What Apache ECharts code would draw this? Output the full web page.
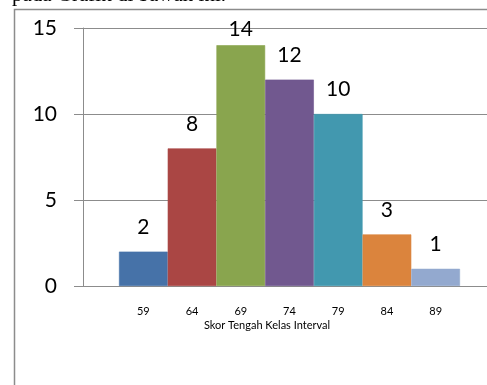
<!DOCTYPE html>
<html>
	<head>
		<meta charset="utf-8" />
		<title>Skor Tengah Kelas Interval</title>
		<style>
			html, body { margin: 0; padding: 0; background: #fff; }
			#chartmain { width: 487px; height: 385px; }
		</style>
	</head>
	<body>
		<div id="chartmain"></div>
		<script type="text/javascript" src="https://cdn.jsdelivr.net/npm/echarts@6/dist/echarts.min.js"></script>
		<script type="text/javascript">
			// data
			var skorTengah = ['59', '64', '69', '74', '79', '84', '89'];
			var frekuensi = [2, 8, 14, 12, 10, 3, 1];
			var warnaBatang = ['#4672A8', '#AA4644', '#89A54E', '#71588F', '#4298AF', '#DB843D', '#93A9CF'];
			var yTicks = [0, 5, 10, 15];

			var garis = '#8c8c8c';
			var hurufAngka = 'Lato, "Open Sans", sans-serif';

			var dataBatang = [];
			for (var i = 0; i < frekuensi.length; i++) {
				var item = {
					value: frekuensi[i],
					itemStyle: { color: warnaBatang[i], borderColor: warnaBatang[i], borderWidth: 0.6 }
				};
				// label yang mentok di atas area plot digeser turun
				if (frekuensi[i] >= 14) {
					item.label = { distance: 5 };
				}
				dataBatang.push(item);
			}

			var option = {
				animation: false,
				backgroundColor: '#fff',
				grid: [
					{ left: 83, right: 0, top: 28, bottom: 99 },
					{ left: 119, right: 27, top: 28, bottom: 99 }
				],
				xAxis: [
					{
						gridIndex: 0, type: 'value', min: 0, max: 1,
						axisLine: { show: true, lineStyle: { color: garis, width: 1 } },
						axisTick: { show: false },
						axisLabel: { show: false },
						splitLine: { show: false }
					},
					{
						gridIndex: 1, type: 'category', data: skorTengah,
						axisLine: { show: false },
						axisTick: { show: false },
						axisLabel: { fontSize: 11, color: '#000', fontFamily: hurufAngka, margin: 20 },
						splitLine: { show: false }
					}
				],
				yAxis: [
					{
						gridIndex: 0, type: 'value',
						min: yTicks[0], max: yTicks[yTicks.length - 1], interval: 5,
						axisLine: { show: true, lineStyle: { color: garis, width: 1 } },
						axisTick: { show: true, length: 9, lineStyle: { color: garis } },
						axisLabel: { fontSize: 21, color: '#000', fontFamily: hurufAngka, margin: 26 },
						splitLine: { show: true, lineStyle: { color: garis, width: 1 } }
					},
					{
						gridIndex: 1, type: 'value',
						min: yTicks[0], max: yTicks[yTicks.length - 1],
						show: false
					}
				],
				series: [{
					name: 'Frekuensi',
					type: 'bar',
					xAxisIndex: 1,
					yAxisIndex: 1,
					barCategoryGap: 0,
					data: dataBatang,
					label: {
						show: true,
						position: 'top',
						distance: 14,
						fontSize: 21,
						color: '#000',
						fontFamily: hurufAngka
					}
				}],
				graphic: [
					{
						type: 'text',
						left: 12,
						top: -15,
						style: {
							text: 'pada Grafik di bawah ini.',
							font: '21px "Liberation Serif", serif',
							fill: '#000'
						}
					},
					{
						type: 'polyline',
						shape: { points: [[14.5, 385], [14.5, 9.5], [487, 9.5]] },
						style: { stroke: garis, lineWidth: 1.5, fill: null }
					},
					{
						type: 'text',
						x: 267,
						y: 325,
						style: {
							text: 'Skor Tengah Kelas Interval',
							font: '11px Lato, "Open Sans", sans-serif',
							fill: '#000',
							align: 'center',
							verticalAlign: 'middle'
						}
					}
				]
			};

			var myChart = echarts.init(document.getElementById('chartmain'));
			myChart.setOption(option);
		</script>
	</body>
</html>
